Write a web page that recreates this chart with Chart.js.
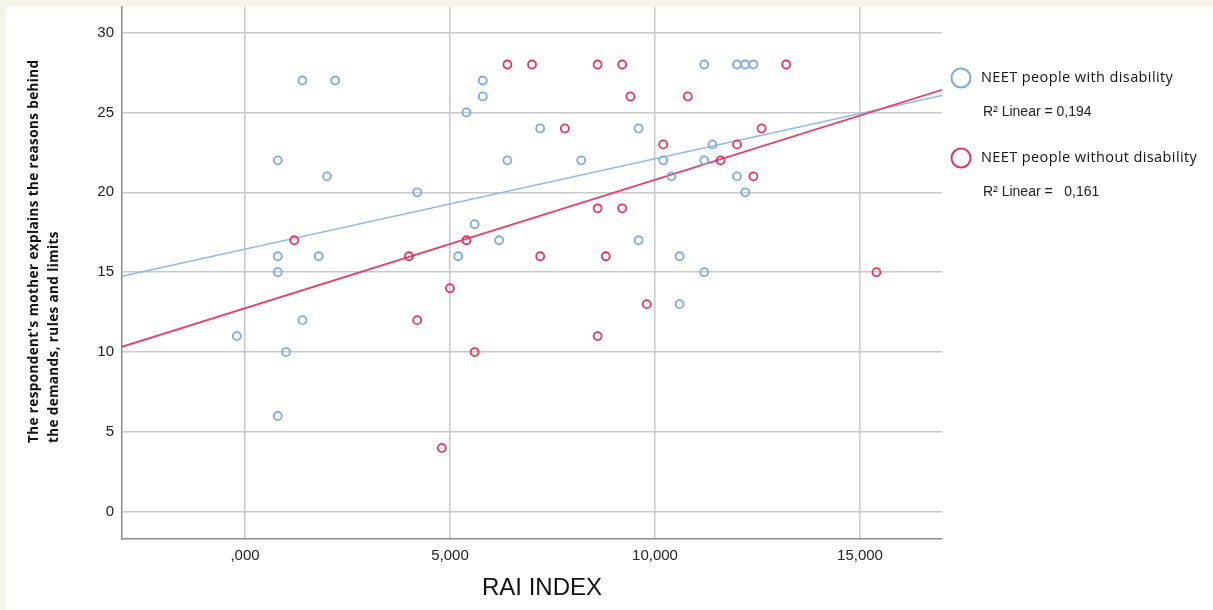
<!DOCTYPE html>
<html>
<head>
<meta charset="utf-8">
<script src="https://cdn.jsdelivr.net/npm/chart.js@4/dist/chart.umd.min.js"></script>
<style>
    html, body { margin: 0; padding: 0; background: #f5f4e9; }
    canvas { display: block; }
</style>
</head>
<body>
<canvas id="raiChart" width="1213" height="610"></canvas>
<script>
// RAI index vs. mother explaining reasons, two groups
let withDisabilityX = [800, 1400, 2200, 2000, 800, 1800, 800, 1400, -200, 1000,
    800, 4200, 5400, 5800, 5800, 5600, 5200, 6200, 7200, 8200,
    6400, 9600, 9600, 10200, 10400, 10600, 10600, 11200, 11200, 11200,
    11400, 12000, 12200, 12400, 12000, 12200];
let withDisabilityY = [22, 27, 27, 21, 16, 16, 15, 12, 11, 10,
    6, 20, 25, 27, 26, 18, 16, 17, 24, 22,
    22, 24, 17, 22, 21, 16, 13, 28, 22, 15,
    23, 28, 28, 28, 21, 20];

let withoutDisabilityX = [1200, 4000, 4200, 4800, 5000, 5400, 5600, 6400, 7000, 7200,
    7800, 8600, 8600, 8600, 8800, 9200, 9200, 9400, 9800, 10200,
    10800, 11600, 12000, 12400, 12600, 13200, 15400];
let withoutDisabilityY = [17, 16, 12, 4, 14, 17, 10, 28, 28, 16,
    24, 28, 19, 11, 16, 28, 19, 26, 13, 23,
    26, 22, 23, 21, 24, 28, 15];

// fit lines, ends of the x range
let fitX = [-3000, 17000];
let fitWithDisability = [14.75, 26.06];
let fitWithoutDisability = [10.33, 26.42];

let xTicks = [0, 5000, 10000, 15000];
let xTickLabels = [',000', '5,000', '10,000', '15,000'];
let yTicks = [0, 5, 10, 15, 20, 25, 30];

let seriesNames = ['NEET people with disability', 'NEET people without disability'];
let rSquaredLabels = ['R\u00b2 Linear = 0,194', 'R\u00b2 Linear =   0,161'];

let yTitle = ["The respondent's mother explains the reasons behind", 'the demands, rules and limits'];
let xTitle = 'RAI INDEX';

const BLUE = '#78aaea';
const RED = '#e2365e';

function toPoints(xs, ys) {
    return xs.map(function (x, i) {
        return {x: x, y: ys[i]};
    });
}

const decorations = {
    id: 'decorations',
    beforeDraw(chart) {
        const ctx = chart.ctx;
        ctx.save();
        ctx.fillStyle = '#f5f4e9';
        ctx.fillRect(0, 0, chart.width, chart.height);
        ctx.fillStyle = '#ffffff';
        ctx.fillRect(6, 7, chart.width - 6, chart.height - 7);
        ctx.restore();
    },
    afterDraw(chart) {
        const ctx = chart.ctx;
        ctx.save();

        // y axis title, two lines rotated
        ctx.translate(34, 443);
        ctx.rotate(-Math.PI / 2);
        ctx.fillStyle = '#111';
        ctx.font = 'bold 13.5px "Open Sans"';
        ctx.letterSpacing = '0.4px';
        ctx.textAlign = 'left';
        ctx.textBaseline = 'middle';
        ctx.fillText(yTitle[0], 0, 0);
        ctx.fillText(yTitle[1], 0, 20);
        ctx.restore();

        // x axis title
        ctx.save();
        ctx.fillStyle = '#111';
        ctx.font = '24px "Liberation Sans"';
        ctx.textAlign = 'center';
        ctx.textBaseline = 'middle';
        ctx.fillText(xTitle, 542, 588);
        ctx.restore();

        // legend with R squared lines
        const colors = [BLUE, RED];
        const rows = [78, 158];
        ctx.save();
        rows.forEach(function (y, i) {
            ctx.beginPath();
            ctx.arc(961, y, 9.5, 0, Math.PI * 2);
            ctx.strokeStyle = colors[i];
            ctx.lineWidth = 2;
            ctx.stroke();

            ctx.fillStyle = '#111';
            ctx.textAlign = 'left';
            ctx.textBaseline = 'middle';
            ctx.font = '14.5px "Open Sans"';
            ctx.letterSpacing = '0.4px';
            ctx.fillText(seriesNames[i], 981, y);
            ctx.font = '14px "Liberation Sans"';
            ctx.letterSpacing = '0px';
            ctx.fillStyle = '#222';
            ctx.fillText(rSquaredLabels[i], 983, y + 34);
        });
        ctx.restore();
    }
};

let raiCanvas = document.getElementById('raiChart');
let raiChart = new Chart(raiCanvas, {
    type: 'scatter',
    data: {
        datasets: [{
            label: seriesNames[1],
            data: toPoints(withoutDisabilityX, withoutDisabilityY),
            borderColor: RED,
            backgroundColor: 'rgba(0,0,0,0)',
            pointRadius: 4,
            borderWidth: 1.8
        }, {
            label: seriesNames[0],
            data: toPoints(withDisabilityX, withDisabilityY),
            borderColor: BLUE,
            backgroundColor: 'rgba(0,0,0,0)',
            pointRadius: 4,
            borderWidth: 1.8
        }, {
            label: 'fit without disability',
            data: toPoints(fitX, fitWithoutDisability),
            showLine: true,
            borderColor: '#e8426c',
            borderWidth: 1.8,
            pointRadius: 0
        }, {
            label: 'fit with disability',
            data: toPoints(fitX, fitWithDisability),
            showLine: true,
            borderColor: '#8cbaf0',
            borderWidth: 1.5,
            pointRadius: 0
        }]
    },
    options: {
        responsive: false,
        devicePixelRatio: 1,
        animation: false,
        layout: {
            padding: {top: 7, right: 271, bottom: 0, left: 0}
        },
        plugins: {
            legend: {display: false},
            tooltip: {enabled: false}
        },
        scales: {
            x: {
                type: 'linear',
                min: -3000,
                max: 17000,
                afterFit: function (scale) {
                    scale.height = 71;
                    scale.paddingLeft = 0;
                    scale.paddingRight = 0;
                },
                afterBuildTicks: function (scale) {
                    scale.ticks = xTicks.map(function (v) { return {value: v}; });
                },
                ticks: {
                    padding: 8,
                    color: '#222',
                    font: {family: 'Liberation Sans', size: 15},
                    callback: function (value) {
                        return xTickLabels[xTicks.indexOf(value)];
                    }
                },
                grid: {
                    color: '#c8c8c8',
                    lineWidth: 1.5,
                    drawTicks: false
                },
                border: {color: '#8a8a8a', width: 1.5}
            },
            y: {
                type: 'linear',
                min: -1.7,
                max: 31.6,
                afterFit: function (scale) {
                    scale.width = 122;
                    scale.paddingTop = 0;
                    scale.paddingBottom = 0;
                },
                afterBuildTicks: function (scale) {
                    scale.ticks = yTicks.map(function (v) { return {value: v}; });
                },
                ticks: {
                    padding: 8,
                    color: '#222',
                    font: {family: 'Liberation Sans', size: 15}
                },
                grid: {
                    color: '#c8c8c8',
                    lineWidth: 1.5,
                    drawTicks: false
                },
                border: {color: '#8a8a8a', width: 1.5}
            }
        }
    },
    plugins: [decorations]
});
</script>
</body>
</html>
